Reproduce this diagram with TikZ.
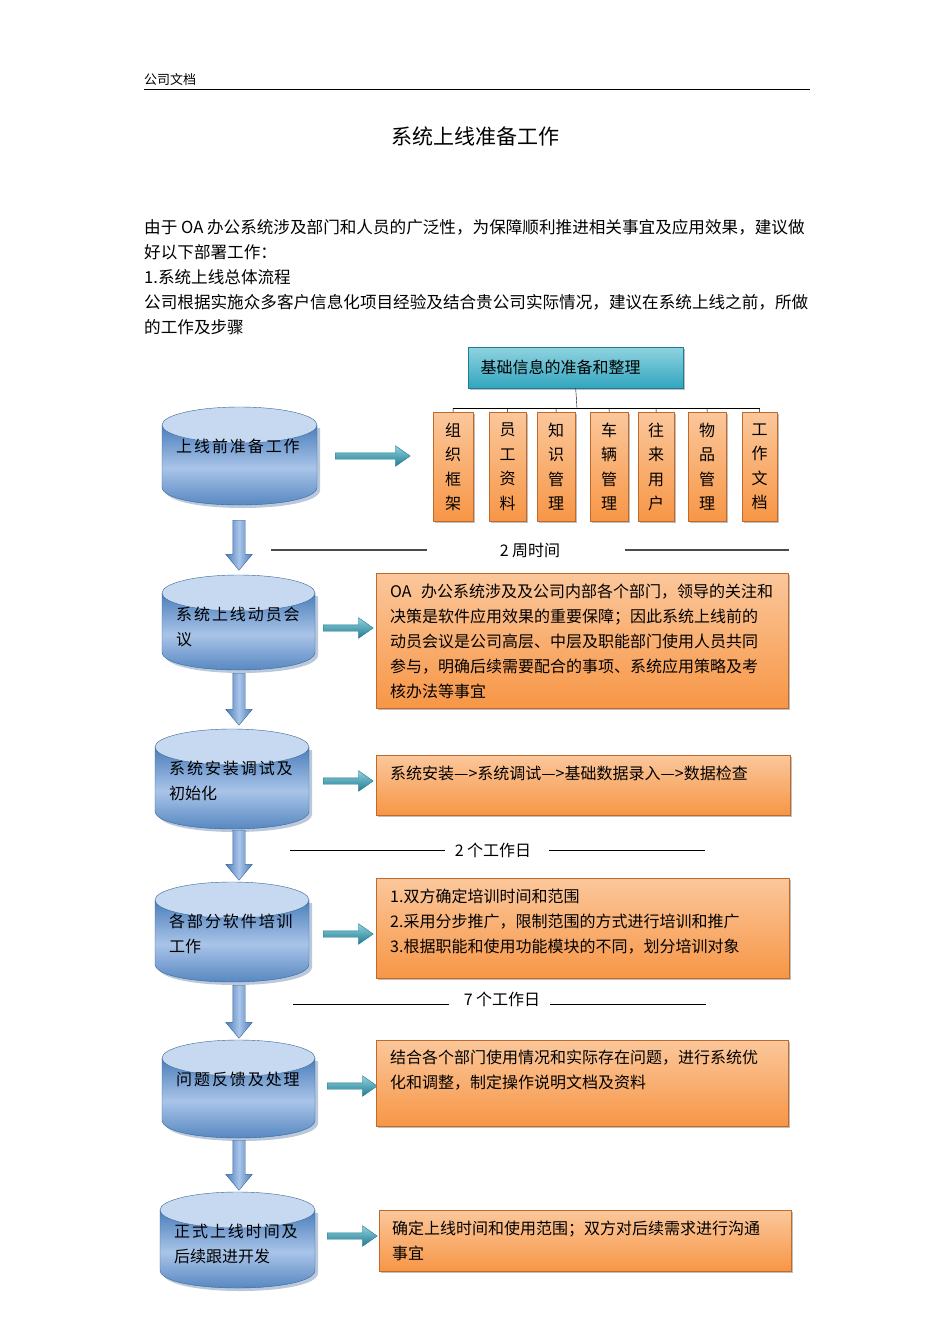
\documentclass[tikz,border=0pt]{standalone}
\usepackage{fontspec}
\setmainfont{Noto Sans CJK SC}
\usetikzlibrary{shadows,shapes.arrows}
\definecolor{cylA}{HTML}{A9C4E8}
\definecolor{cylB}{HTML}{4A7EBB}
\definecolor{cylE}{HTML}{C6D9F1}
\definecolor{cylL}{HTML}{3A6699}
\definecolor{orA}{HTML}{FBC79B}
\definecolor{orB}{HTML}{F79646}
\definecolor{orL}{HTML}{C0692A}
\definecolor{tlA}{HTML}{8FD3E0}
\definecolor{tlB}{HTML}{31A5BF}
\definecolor{tlL}{HTML}{217A8F}
\tikzset{
  txt/.style={font=\fontsize{16.6}{24}\selectfont, inner sep=0pt, anchor=base west},
  obox/.style={draw=orL, top color=orA, bottom color=orB, inner sep=0pt,
     drop shadow={shadow xshift=2pt, shadow yshift=-2pt, opacity=0.5}},
  sbox/.style={obox},
  tbox/.style={draw=tlL, top color=tlA, bottom color=tlB, inner sep=0pt,
     drop shadow={shadow xshift=2pt, shadow yshift=-2pt, opacity=0.5}},
  darr/.style={single arrow, draw=cylL, left color=cylB, right color=cylB, middle color=cylA,
     minimum width=26pt, single arrow tip angle=80, inner sep=0pt, shape border rotate=270},
  rarr/.style={single arrow, draw=tlL, top color=tlA, bottom color=tlL, inner sep=0pt,
     minimum width=15pt, single arrow tip angle=70},
  tline/.style={line width=1.2pt, black!70},
}
\newcommand\mycyl[6]{% name, left, right, top, bottom, text
  \pgfmathsetmacro\cx{(#2+#3)/2}\pgfmathsetmacro\rx{(#3-#2)/2}
  \fill[cylL!70,opacity=0.5] (#2+3,#4+21) -- (#2+3,#5-18+3) .. controls (#2+3,#5+3+6) and (#3+3,#5+3+6) .. (#3+3,#5-18+3) -- (#3+3,#4+21) -- cycle;
  \draw[cylL, top color=cylB, bottom color=cylB, middle color=cylA] (#2,#4+18) -- (#2,#5-18) .. controls (#2,#5+6) and (#3,#5+6) .. (#3,#5-18) -- (#3,#4+18) -- cycle;
  \draw[cylL, fill=cylE] (\cx,#4+18) ellipse [x radius=\rx, y radius=18];
  \node[inner sep=0pt] (#1) at (\cx,{(#4+#5)/2+5}) {};
  \node[anchor=north west, align=left, font=\fontsize{16}{25}\selectfont, inner sep=0pt] at (#2+14,#4+32) {\addfontfeature{LetterSpace=12}#6};
}
\begin{document}
\begin{tikzpicture}[x=1pt,y=-1pt]
\useasboundingbox (0,0) rectangle (950,1344);
\fill[white] (0,0) rectangle (950,1344);
% header
\node[txt, font=\fontsize{13}{15}\selectfont] (hdr) at (144,84) {公司文档};
\coordinate (hl) at (144,89); \coordinate (hr) at (810,89);
\draw[line width=0.8pt] (hl) -- (hr);
\node[font=\fontsize{21}{24}\selectfont] (title) at (475,136) {系统上线准备工作};
\node[txt] (p1) at (144,233) {由于 OA 办公系统涉及部门和人员的广泛性，为保障顺利推进相关事宜及应用效果，建议做};
\node[txt] (p2) at (144,258) {好以下部署工作：};
\node[txt] (p3) at (144,283) {1.系统上线总体流程};
\node[txt] (p4) at (144,308) {公司根据实施众多客户信息化项目经验及结合贵公司实际情况，建议在系统上线之前，所做};
\node[txt] (p5) at (144,333) {的工作及步骤};
% top teal box
\node[tbox, minimum width=215pt, minimum height=41pt, font=\fontsize{16}{18}\selectfont, anchor=north west, text width=200pt, align=left] (base) at (468,347) {\hspace{5pt}基础信息的准备和整理};
\coordinate (bj) at (577,408);
\draw (base.south) -- (bj);
\foreach \n/\l/\r/\t in {a/433/473/组\\织\\框\\架, b/489/526/员\\工\\资\\料, c/537/575/知\\识\\管\\理, d/590/628/车\\辆\\管\\理, e/638/674/往\\来\\用\\户, f/688/726/物\\品\\管\\理, g/742/777/工\\作\\文\\档}{
  \node[sbox, anchor=north west, minimum width=\r-\l, minimum height=109pt, align=center, font=\fontsize{16}{24.5}\selectfont] (s\n) at (\l,412) {\t};
  \coordinate (t\n) at ({(\l+\r)/2},408);
  \draw (t\n) -- (s\n.north);
}
\draw (ta) -- (tg);
% cylinders
\mycyl{c1}{162}{317}{407}{505}{上线前准备工作}
\mycyl{c2}{162}{315}{575}{670}{系统上线动员会\\议}
\mycyl{c3}{155}{309}{729}{829}{系统安装调试及\\初始化}
\mycyl{c4}{155}{309}{882}{982}{各部分软件培训\\工作}
\mycyl{c5}{162}{315}{1040}{1138}{问题反馈及处理}
\mycyl{c6}{160}{315}{1192}{1288}{正式上线时间及\\后续跟进开发}
% down arrows
\foreach \y/\h in {520/50,673/52,830/50,985/53,1140/50}{
  \node[darr, minimum height=\h pt, anchor=tail] at (239,\y) {\hbox to 12pt{\hfil}};
}
% right arrows
\foreach \x/\y/\w in {335/456/75,323/628/50,323/781/50,323/934/50,327/1086/50,327/1236/50}{
  \node[rarr, minimum height=\w pt, anchor=tail] at (\x,\y) {\rule{0pt}{6pt}};
}
% orange boxes
\tikzset{bt/.style={font=\fontsize{16}{25}\selectfont, anchor=north west, inner sep=0pt, align=left}}
\node[obox, anchor=north west, minimum width=412pt, minimum height=135pt] (bA) at (376,573) {};
\node[bt] at (390,584) {OA\hspace{0.6em}办公系统涉及及公司内部各个部门，领导的关注和\\决策是软件应用效果的重要保障；因此系统上线前的\\动员会议是公司高层、中层及职能部门使用人员共同\\参与，明确后续需要配合的事项、系统应用策略及考\\核办法等事宜};
\node[obox, anchor=north west, minimum width=414pt, minimum height=60pt] (bB) at (376,755) {};
\node[bt] at (390,766) {系统安装—>系统调试—>基础数据录入—>数据检查};
\node[obox, anchor=north west, minimum width=413pt, minimum height=100pt] (bC) at (376,878) {};
\node[bt] at (390,889) {1.双方确定培训时间和范围\\2.采用分步推广，限制范围的方式进行培训和推广\\3.根据职能和使用功能模块的不同，划分培训对象};
\node[obox, anchor=north west, minimum width=412pt, minimum height=86pt] (bD) at (376,1040) {};
\node[bt] at (390,1050) {结合各个部门使用情况和实际存在问题，进行系统优\\化和调整，制定操作说明文档及资料};
\node[obox, anchor=north west, minimum width=412pt, minimum height=61pt] (bE) at (379,1210) {};
\node[bt] at (392,1221) {确定上线时间和使用范围；双方对后续需求进行沟通\\事宜};
% time lines
\tikzset{tl/.style={font=\fontsize{16}{18}\selectfont, inner sep=0pt}}
\node[tl] (w1) at (530,551) {2 周时间};
\coordinate (a1) at (271,550); \coordinate (b1) at (427,550);
\coordinate (a2) at (625,550); \coordinate (b2) at (789,550);
\draw[tline] (a1) -- (b1); \draw[tline] (a2) -- (b2);
\node[tl] (w2) at (493,850) {2 个工作日};
\coordinate (a3) at (290,850); \coordinate (b3) at (445,850);
\coordinate (a4) at (549,850); \coordinate (b4) at (705,850);
\draw[line width=0.9pt] (a3) -- (b3); \draw[line width=0.9pt] (a4) -- (b4);
\node[tl] (w3) at (502,999) {7 个工作日};
\coordinate (a5) at (293,1004); \coordinate (b5) at (449,1004);
\coordinate (a6) at (550,1004); \coordinate (b6) at (706,1004);
\draw[line width=0.9pt] (a5) -- (b5); \draw[line width=0.9pt] (a6) -- (b6);
\end{tikzpicture}
\end{document}
